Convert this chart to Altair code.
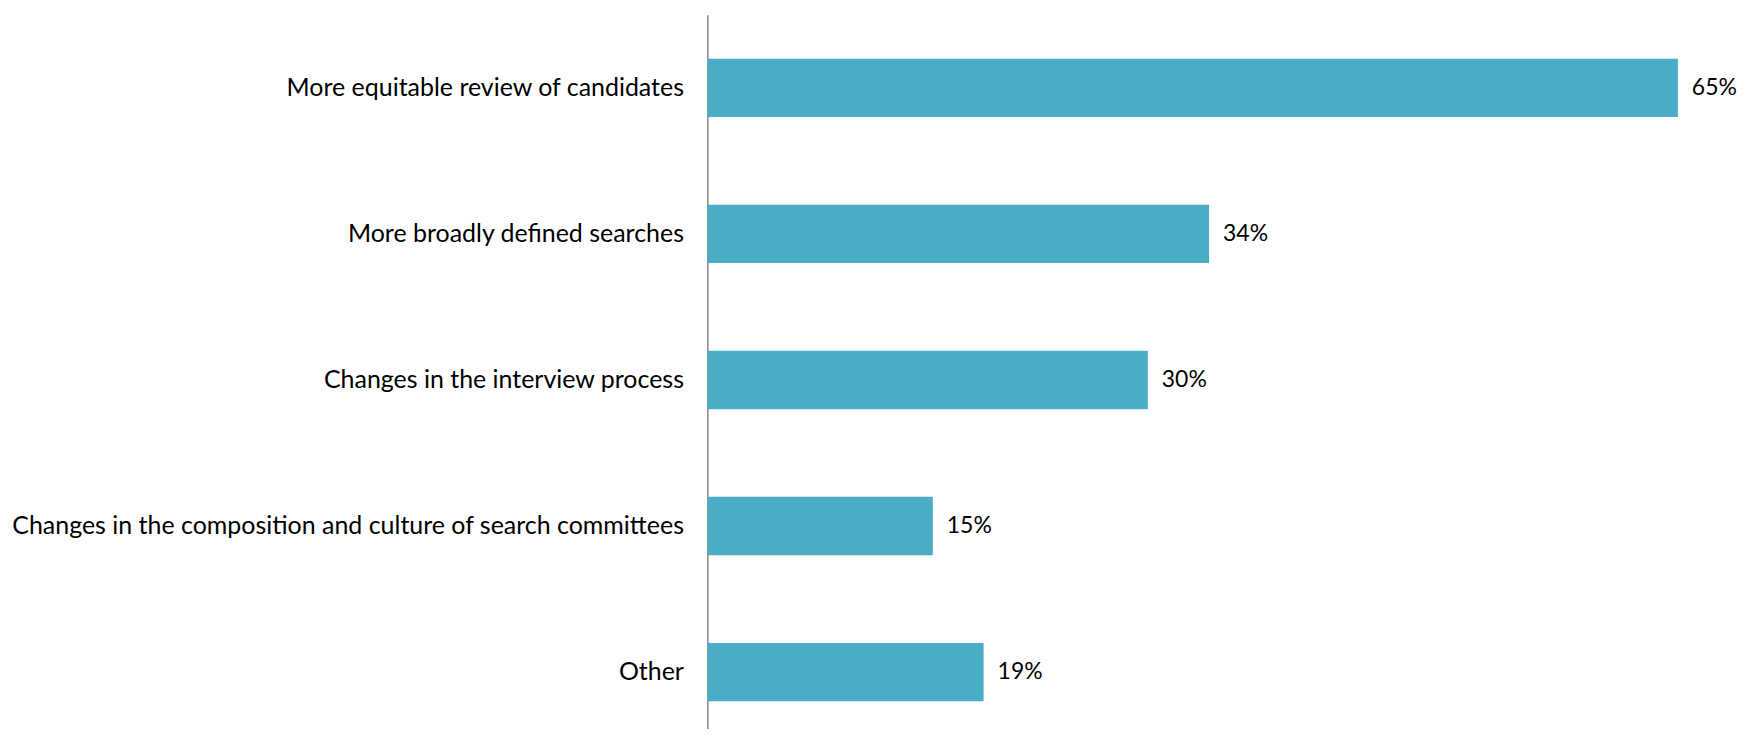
import altair as alt
import pandas as pd

categories = [
    "More equitable review of candidates",
    "More broadly defined searches",
    "Changes in the interview process",
    "Changes in the composition and culture of search committees",
    "Other",
]
values = [65.0, 33.6, 29.5, 15.1, 18.5]
labels = ["65%", "34%", "30%", "15%", "19%"]

df = pd.DataFrame({"category": categories, "value": values, "label": labels})

FONT = "Lato"
FS = 25

y_enc = alt.Y(
    "category:N",
    sort=categories,
    title=None,
    scale=alt.Scale(paddingInner=0.6, paddingOuter=0.3, range=[0, 732]),
    axis=alt.Axis(
        ticks=False,
        domainColor="#868686",
        domainWidth=1.5,
        labelFont=FONT,
        labelFontSize=FS,
        labelColor="#000000",
        labelPadding=24,
        labelLimit=900,
    ),
)
x_enc = alt.X(
    "value:Q",
    title=None,
    scale=alt.Scale(domain=[0, 69.16], nice=False),
    axis=None,
)

bars = alt.Chart(df).mark_bar(color="#4BACC6").encode(x=x_enc, y=y_enc)
text = alt.Chart(df).mark_text(
    align="left", baseline="middle", dx=14, font=FONT, fontSize=23, color="#000000"
).encode(x=x_enc, y=alt.Y("category:N", sort=categories), text="label:N")

chart = (
    (bars + text)
    .properties(
        width=1035,
        height=715,
        autosize=alt.AutoSizeParams(type="none"),
        padding={"left": 701, "top": 6, "right": 0, "bottom": 0},
    )
    .configure_view(stroke=None)
)

chart.save("out.html", embed_options={"renderer": "svg", "actions": False})
